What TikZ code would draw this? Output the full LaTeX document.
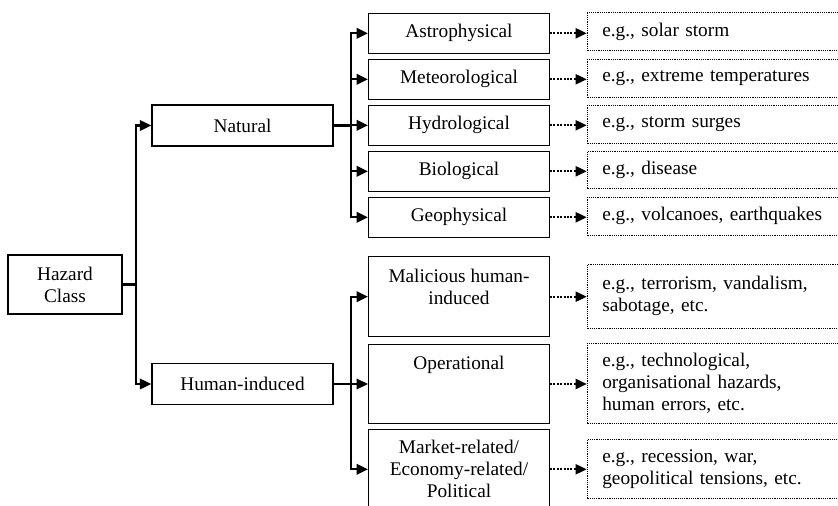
\documentclass[tikz,border=0pt]{standalone}
\usepackage{fontspec}
\setmainfont{Liberation Serif}
\usetikzlibrary{arrows.meta,calc}
\begin{document}
\begin{tikzpicture}[x=1pt,y=-1pt,
  fnt/.style={font=\fontsize{19.3}{22}\selectfont},
  box/.style={draw, line width=1.4pt, fnt, align=center, inner sep=0pt},
  catbox/.style={box, minimum width=180.6pt},
  dbox/.style={draw, line width=1.2pt, dash pattern=on 1.2pt off 1pt, fnt, align=left,
    inner xsep=15pt, inner ysep=0pt, text width=228.3pt, anchor=west},
  conn/.style={line width=2.2pt, -{Triangle[length=11.5pt,width=10.5pt]}},
  junc/.style={line width=2.2pt},
  dconn/.style={line width=2pt, dash pattern=on 2pt off 1.4pt, -{Triangle[length=11pt,width=10pt]}},
  lbl/.style={fnt, align=center, inner sep=0pt, anchor=north}
]
\useasboundingbox (0,0) rectangle (838,506);
\clip (0,0) rectangle (838,506);

% root
\node[box, minimum width=114pt, minimum height=59pt] (hz) at (65,284.5) {Hazard\\Class};
% level 1
\node[box, minimum width=181pt, minimum height=41pt] (nat) at (242.5,125.5) {Natural};
\node[box, minimum width=181pt, minimum height=41pt] (hum) at (242.5,384) {Human-induced};
% natural categories
\node[catbox, minimum height=40pt] (ast) at (459,33.3) {Astrophysical};
\node[catbox, minimum height=40pt] (met) at (459,79.3) {Meteorological};
\node[catbox, minimum height=40pt] (hyd) at (459,125.3) {Hydrological};
\node[catbox, minimum height=40pt] (bio) at (459,171.3) {Biological};
\node[catbox, minimum height=40pt] (geo) at (459,217.3) {Geophysical};
% human categories
\node[catbox, minimum height=80pt] (mal) at (459,296.7) {};
\node[catbox, minimum height=79pt] (ope) at (459,384) {};
\node[catbox, minimum height=80pt] (mar) at (459,469.3) {};
\node[lbl] (maltxt) at ($(mal.north)+(0,12.5)$) {Malicious human-\\induced};
\node[lbl] (opetxt) at ($(ope.north)+(0,12.5)$) {Operational};
\node[lbl] (martxt) at ($(mar.north)+(0,11.5)$) {Market-related/\\Economy-related/\\Political};

% examples
\node[dbox, minimum height=38pt] (sol) at (586.7,31.7) {e.g., solar storm};
\node[dbox, minimum height=38pt] (ext) at (586.7,78.3) {e.g., extreme temperatures};
\node[dbox, minimum height=38pt] (sto) at (586.7,124.3) {e.g., storm surges};
\node[dbox, minimum height=37.4pt] (dis) at (586.7,170) {e.g., disease};
\node[dbox, minimum height=38pt] (vol) at (586.7,216.3) {e.g., volcanoes, earthquakes};
\node[dbox, minimum height=64pt] (ter) at (586.7,296.3) {e.g., terrorism, vandalism,\\sabotage, etc.};
\node[dbox, minimum height=80pt] (tec) at (586.7,383.3) {e.g., technological,\\organisational hazards,\\human errors, etc.};
\node[dbox, minimum height=59pt] (rec) at (586.7,468.8) {e.g., recession, war,\\geopolitical tensions, etc.};

% root connectors
\coordinate (hzj) at (136,284.5);
\draw[junc] (hz.east) -- (hzj);
\draw[conn] (hzj) |- (nat.west);
\draw[conn] (hzj) |- (hum.west);

% natural fan
\coordinate (nj) at (350.7,125.5);
\draw[junc] (nat.east) -- (nj);
\foreach \n in {ast,met,hyd,bio,geo} \draw[conn] (nj) |- (\n.west);

% human fan
\coordinate (hj) at (350.7,384);
\draw[junc] (hum.east) -- (hj);
\foreach \n in {mal,ope,mar} \draw[conn] (hj) |- (\n.west);

% dotted arrows
\draw[dconn] (ast.east) -- (ast.east -| sol.west);
\draw[dconn] (met.east) -- (met.east -| ext.west);
\draw[dconn] (hyd.east) -- (hyd.east -| sto.west);
\draw[dconn] (bio.east) -- (bio.east -| dis.west);
\draw[dconn] (geo.east) -- (geo.east -| vol.west);
\draw[dconn] (mal.east) -- (mal.east -| ter.west);
\draw[dconn] (ope.east) -- (ope.east -| tec.west);
\draw[dconn] (mar.east) -- (mar.east -| rec.west);
\end{tikzpicture}
\end{document}
